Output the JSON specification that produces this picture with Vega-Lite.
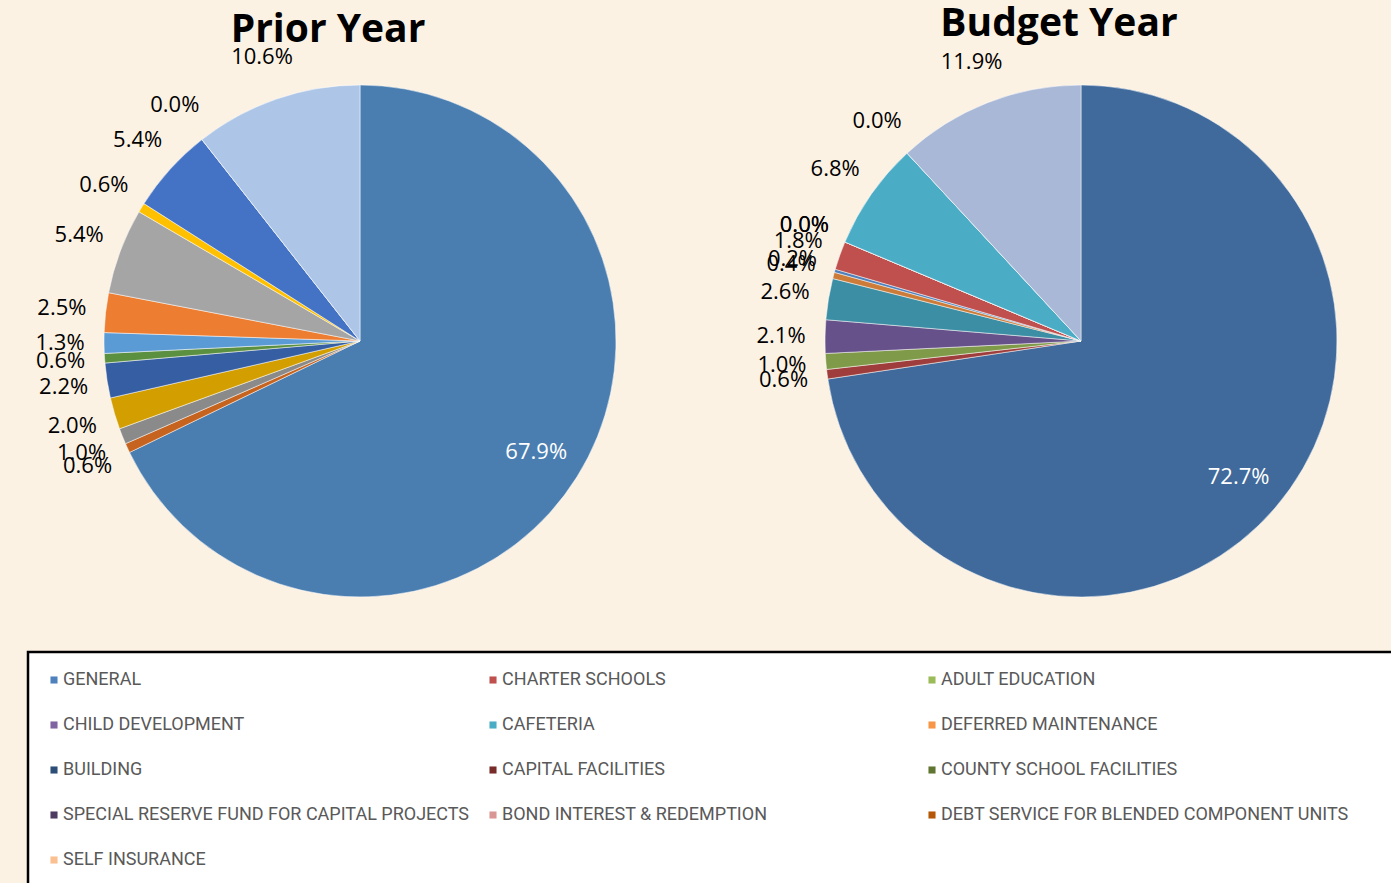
{
  "$schema": "https://vega.github.io/schema/vega-lite/v6.json",
  "background": "#FCF2E4",
  "padding": {"left": 26, "top": 5, "right": 0, "bottom": 0},
  "autosize": {"type": "pad"},
  "spacing": 9,
  "config": {"view": {"stroke": null}},
  "datasets": {
    "prior": [
      {"fund": "GENERAL", "share": 0.679},
      {"fund": "CHARTER SCHOOLS", "share": 0.006},
      {"fund": "ADULT EDUCATION", "share": 0.010},
      {"fund": "CHILD DEVELOPMENT", "share": 0.020},
      {"fund": "CAFETERIA", "share": 0.022},
      {"fund": "DEFERRED MAINTENANCE", "share": 0.006},
      {"fund": "BUILDING", "share": 0.013},
      {"fund": "CAPITAL FACILITIES", "share": 0.025},
      {"fund": "COUNTY SCHOOL FACILITIES", "share": 0.054},
      {"fund": "SPECIAL RESERVE FUND FOR CAPITAL PROJECTS", "share": 0.006},
      {"fund": "BOND INTEREST & REDEMPTION", "share": 0.054},
      {"fund": "DEBT SERVICE FOR BLENDED COMPONENT UNITS", "share": 0.0},
      {"fund": "SELF INSURANCE", "share": 0.106}
    ],
    "budget": [
      {"fund": "GENERAL", "share": 0.727},
      {"fund": "CHARTER SCHOOLS", "share": 0.006},
      {"fund": "ADULT EDUCATION", "share": 0.010},
      {"fund": "CHILD DEVELOPMENT", "share": 0.021},
      {"fund": "CAFETERIA", "share": 0.026},
      {"fund": "DEFERRED MAINTENANCE", "share": 0.004},
      {"fund": "BUILDING", "share": 0.002},
      {"fund": "CAPITAL FACILITIES", "share": 0.018},
      {"fund": "COUNTY SCHOOL FACILITIES", "share": 0.0},
      {"fund": "SPECIAL RESERVE FUND FOR CAPITAL PROJECTS", "share": 0.0},
      {"fund": "BOND INTEREST & REDEMPTION", "share": 0.068},
      {"fund": "DEBT SERVICE FOR BLENDED COMPONENT UNITS", "share": 0.0},
      {"fund": "SELF INSURANCE", "share": 0.119}
    ]
  },
  "resolve": {"scale": {"color": "independent"}, "legend": {"color": "independent"}},
  "vconcat": [
    {
      "spacing": 78,
      "bounds": "flush",
      "resolve": {"scale": {"color": "independent", "theta": "independent"}, "legend": {"color": "independent"}},
      "hconcat": [
        {
          "width": 664,
          "height": 600,
          "title": {"text": "Prior Year", "font": "Open Sans", "fontSize": 39, "fontWeight": "bold", "color": "#000000", "baseline": "alphabetic", "offset": -40, "dx": -32, "anchor": "middle", "frame": "group"},
          "data": {"name": "prior"},
          "transform": [{"window": [{"op": "row_number", "as": "idx"}]}],
          "encoding": {
            "theta": {"field": "share", "type": "quantitative", "stack": true},
            "order": {"field": "idx", "type": "quantitative"}
          },
          "layer": [
            {
              "mark": {"type": "arc", "outerRadius": 256, "stroke": "#FFFFFF", "strokeWidth": 0.5},
              "encoding": {
                "color": {
                  "field": "fund", "type": "nominal", "legend": null,
                  "scale": {
                    "domain": ["GENERAL", "CHARTER SCHOOLS", "ADULT EDUCATION", "CHILD DEVELOPMENT", "CAFETERIA", "DEFERRED MAINTENANCE", "BUILDING", "CAPITAL FACILITIES", "COUNTY SCHOOL FACILITIES", "SPECIAL RESERVE FUND FOR CAPITAL PROJECTS", "BOND INTEREST & REDEMPTION", "DEBT SERVICE FOR BLENDED COMPONENT UNITS", "SELF INSURANCE"],
                    "range": ["#4A7EB0", "#C5631F", "#8A8A8A", "#D39F00", "#365EA3", "#5B9040", "#5B9BD5", "#ED7D31", "#A5A5A5", "#FFC000", "#4472C4", "#70AD47", "#ADC5E7"]
                  }
                }
              }
            },
            {
              "mark": {"type": "text", "radius": 300, "font": "Open Sans", "fontSize": 22, "fill": "#000000"},
              "encoding": {
                "detail": {"field": "fund", "type": "nominal"},
                "text": {"field": "share", "type": "quantitative", "format": ".1%"},
                "opacity": {"condition": {"test": "datum.share < 0.5", "value": 1}, "value": 0}
              }
            },
            {
              "mark": {"type": "text", "radius": 208, "font": "Open Sans", "fontSize": 22, "fill": "#FFFFFF"},
              "encoding": {
                "detail": {"field": "fund", "type": "nominal"},
                "text": {"field": "share", "type": "quantitative", "format": ".1%"},
                "opacity": {"condition": {"test": "datum.share >= 0.5", "value": 1}, "value": 0}
              }
            }
          ]
        },
        {
          "width": 622,
          "height": 600,
          "title": {"text": "Budget Year", "font": "Open Sans", "fontSize": 39, "fontWeight": "bold", "color": "#000000", "baseline": "alphabetic", "offset": -34, "dx": -22, "anchor": "middle", "frame": "group"},
          "data": {"name": "budget"},
          "transform": [{"window": [{"op": "row_number", "as": "idx"}]}],
          "encoding": {
            "theta": {"field": "share", "type": "quantitative", "stack": true},
            "order": {"field": "idx", "type": "quantitative"}
          },
          "layer": [
            {
              "mark": {"type": "arc", "outerRadius": 256, "stroke": "#FFFFFF", "strokeWidth": 0.5},
              "encoding": {
                "color": {
                  "field": "fund", "type": "nominal", "legend": null,
                  "scale": {
                    "domain": ["GENERAL", "CHARTER SCHOOLS", "ADULT EDUCATION", "CHILD DEVELOPMENT", "CAFETERIA", "DEFERRED MAINTENANCE", "BUILDING", "CAPITAL FACILITIES", "COUNTY SCHOOL FACILITIES", "SPECIAL RESERVE FUND FOR CAPITAL PROJECTS", "BOND INTEREST & REDEMPTION", "DEBT SERVICE FOR BLENDED COMPONENT UNITS", "SELF INSURANCE"],
                    "range": ["#3F6A9B", "#9E3D3B", "#7F9A48", "#67518A", "#3C8EA5", "#CC7B38", "#4F81BD", "#C0504D", "#9BBB59", "#8064A2", "#4BACC6", "#F79646", "#A9B8D6"]
                  }
                }
              }
            },
            {
              "mark": {"type": "text", "radius": 300, "font": "Open Sans", "fontSize": 22, "fill": "#000000"},
              "encoding": {
                "detail": {"field": "fund", "type": "nominal"},
                "text": {"field": "share", "type": "quantitative", "format": ".1%"},
                "opacity": {"condition": {"test": "datum.share < 0.5", "value": 1}, "value": 0}
              }
            },
            {
              "mark": {"type": "text", "radius": 208, "font": "Open Sans", "fontSize": 22, "fill": "#FFFFFF"},
              "encoding": {
                "detail": {"field": "fund", "type": "nominal"},
                "text": {"field": "share", "type": "quantitative", "format": ".1%"},
                "opacity": {"condition": {"test": "datum.share >= 0.5", "value": 1}, "value": 0}
              }
            }
          ]
        }
      ]
    },
    {
      "width": 1374,
      "height": 241,
      "view": {"fill": "#FFFFFF", "stroke": "#000000", "strokeWidth": 2.5},
      "data": {"name": "budget"},
      "mark": {"type": "square", "opacity": 0},
      "encoding": {
        "color": {
          "field": "fund", "type": "nominal",
          "scale": {
            "domain": ["GENERAL", "CHARTER SCHOOLS", "ADULT EDUCATION", "CHILD DEVELOPMENT", "CAFETERIA", "DEFERRED MAINTENANCE", "BUILDING", "CAPITAL FACILITIES", "COUNTY SCHOOL FACILITIES", "SPECIAL RESERVE FUND FOR CAPITAL PROJECTS", "BOND INTEREST & REDEMPTION", "DEBT SERVICE FOR BLENDED COMPONENT UNITS", "SELF INSURANCE"],
            "range": ["#4F81BD", "#C0504D", "#9BBB59", "#8064A2", "#4BACC6", "#F79646", "#2C4D75", "#772C2A", "#5F7530", "#4D3B62", "#D99694", "#B65708", "#FAC090"]
          },
          "legend": {
            "title": null,
            "orient": "none",
            "direction": "horizontal",
            "legendX": 17,
            "legendY": 19,
            "padding": 0,
            "columns": 3,
            "gridAlign": "all",
            "columnPadding": 13,
            "rowPadding": 27,
            "symbolType": "square",
            "symbolSize": 50,
            "symbolOpacity": 1,
            "symbolStrokeWidth": 0,
            "labelFont": "Roboto",
            "labelFontSize": 18,
            "labelColor": "#595959",
            "labelOffset": 0,
            "labelLimit": 600
          }
        }
      }
    }
  ]
}
